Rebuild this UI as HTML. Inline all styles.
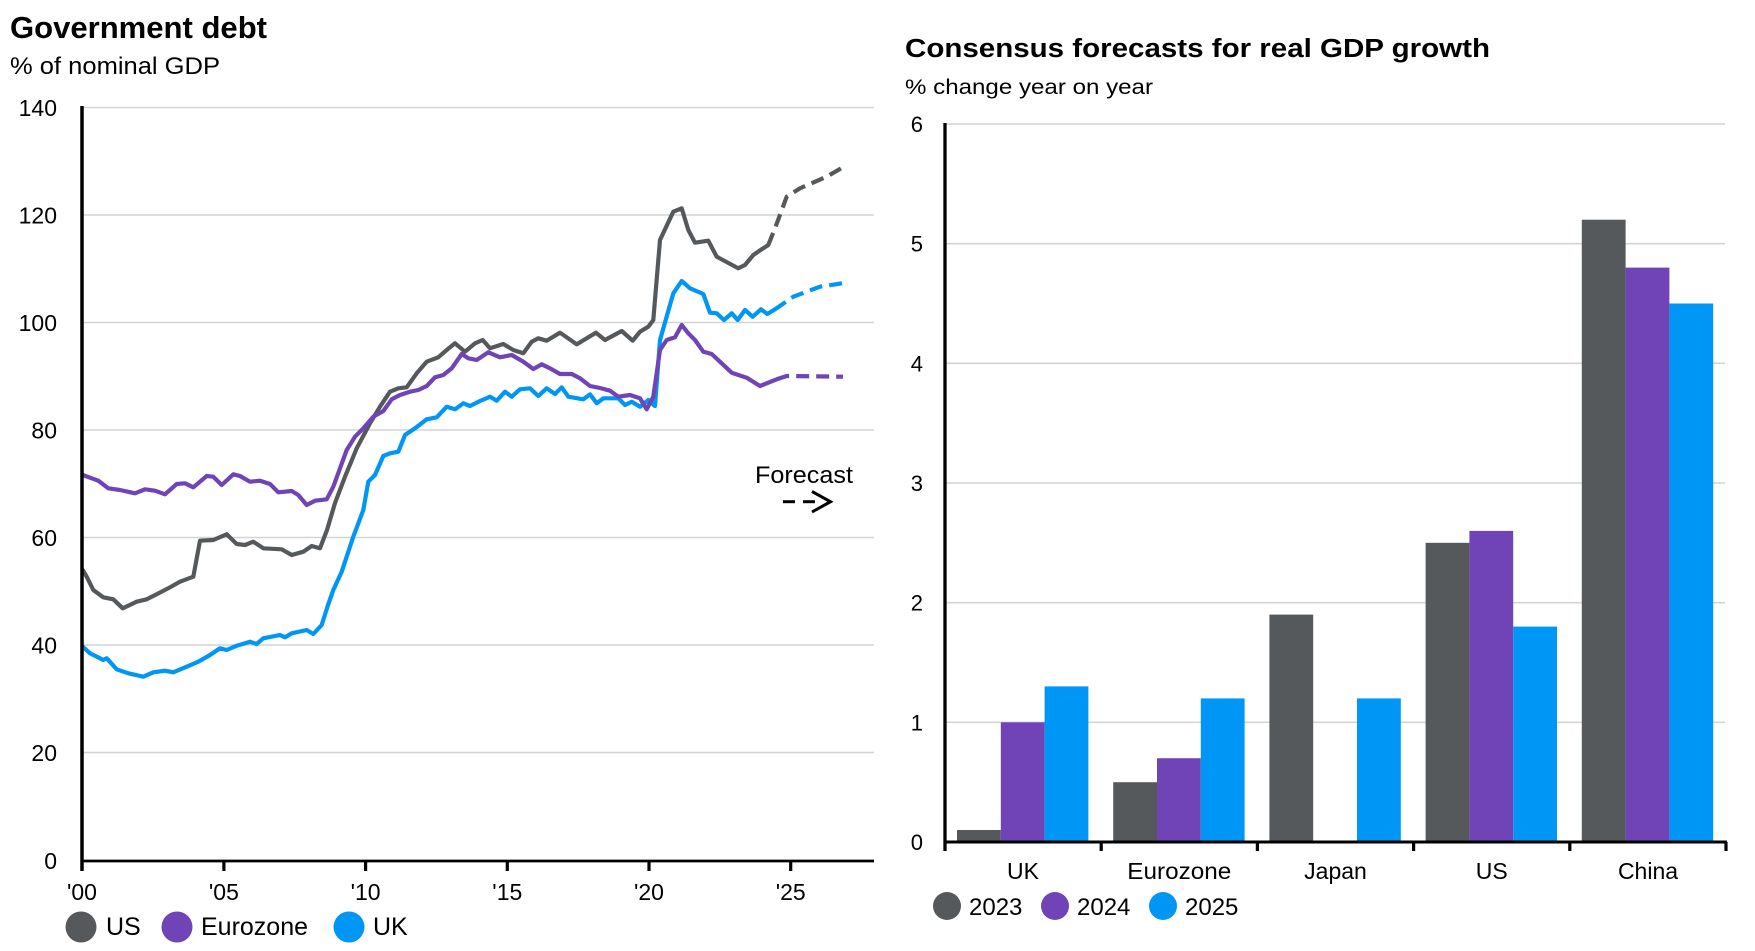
<!DOCTYPE html>
<html><head><meta charset="utf-8"><style>
html,body{margin:0;padding:0;background:#fff;}
svg{display:block;}
text{font-family:"Liberation Sans",Arial,sans-serif;fill:#000;}
</style></head><body>
<svg width="1755" height="951" viewBox="0 0 1755 951" xmlns="http://www.w3.org/2000/svg">
<rect width="1755" height="951" fill="#fff"/>

<!-- LEFT CHART -->
<text x="10" y="38" font-size="31" font-weight="bold" textLength="257" lengthAdjust="spacingAndGlyphs">Government debt</text>
<text x="10" y="74" font-size="24" textLength="210" lengthAdjust="spacingAndGlyphs">% of nominal GDP</text>

<g stroke="#d4d4d4" stroke-width="1.6">
<line x1="82" y1="752.5" x2="874" y2="752.5"/>
<line x1="82" y1="645" x2="874" y2="645"/>
<line x1="82" y1="537.5" x2="874" y2="537.5"/>
<line x1="82" y1="430" x2="874" y2="430"/>
<line x1="82" y1="322.5" x2="874" y2="322.5"/>
<line x1="82" y1="215" x2="874" y2="215"/>
<line x1="82" y1="107.5" x2="874" y2="107.5"/>
</g>
<g font-size="23" text-anchor="end">
<text x="57" y="869">0</text>
<text x="57" y="761">20</text>
<text x="57" y="653.5">40</text>
<text x="57" y="546">60</text>
<text x="57" y="438.5">80</text>
<text x="57" y="331">100</text>
<text x="57" y="223.5">120</text>
<text x="57" y="116">140</text>
</g>

<g fill="none" stroke-width="4.2" stroke-linejoin="round" stroke-linecap="round">
<polyline stroke="#55595c" points="82.7,570 86.7,576.7 93.3,590 103.3,597.3 113.3,599.3 122.7,608.3 136.7,601.7 146.7,599.3 156.7,594.3 170,587.3 180,581.7 193.3,576.7 200,540.7 213.3,540 226.7,534.3 236.7,544 245,545 253.3,541.7 263.3,548.3 281.7,549.3 291.7,555 303.3,551.7 311.7,546 320,548.3 327,530 335,503 345,476.7 356.7,448.3 370,423.3 380,406.7 390,391.7 398.3,388.3 406.7,387.3 416.7,373.3 426.7,361.7 438.3,357.3 446.7,350 455,343.3 465,351.7 475,343.3 482.7,340 490,348.3 503.3,344 513.3,350 523.3,353.3 531.7,341.7 538.3,338.3 546.7,340.7 560,332.7 566.7,337.3 576.7,344.3 596,332.7 605,340 621.7,331 632.7,340.7 640,331.7 648.3,326.7 653.3,320 660,240 673.3,211.7 681.7,208.3 688.3,230 695,242.7 708.3,240.7 716.7,256.7 738.3,268.3 745,265 753.3,255 761.7,249.3 768.3,245"/>
<polyline stroke="#55595c" stroke-dasharray="13 7" stroke-linecap="butt" points="768.3,245 775,228.3 786.7,196.7 800,188.3 826.7,176.7 845,166"/>

<polyline stroke="#0096f5" points="82.7,646.7 90,653.3 103.3,660 106.7,658.3 116.7,669.3 128.3,673.3 143.3,676.7 153.3,672.3 165,670.7 173.3,672.3 186.7,666.7 198.3,661.7 210,655 220,648.3 226.7,650 236.7,645.7 250,641.7 256.7,644 263.3,638.3 280,635 285,637.3 291.7,633.3 306.7,630 313.3,634 321.7,625 328,605 333.3,590 341.7,571.7 353.3,536.7 363.3,510 368.3,481.7 375,475 383.3,456 390,453.3 398.3,451.7 405,435 415,428.3 426.7,419.3 436.7,417.3 446.7,406.7 455,409.3 463.3,403.3 470,406 480,401 490,396.7 496.7,400.7 505,391.7 511.7,396.7 520,389.3 530,388.3 538.3,396 546.7,388.3 555,394 561.7,387.3 568.3,396.7 583.3,399.3 590,394.3 596.7,403.3 603.3,398.3 618.3,398.3 625,405 631.7,401.7 640,406.7 648.3,400 655,406 660,340 673.3,293.3 681.7,281 690,288.3 703.3,294 710,312.7 716.7,313.3 724,320 731.7,313.3 737.7,320 745,310 752.7,316.7 761,309.3 767.3,314 775,309.3"/>
<polyline stroke="#0096f5" stroke-dasharray="13 7" stroke-linecap="butt" points="775,309.3 793.3,296.7 820,286.7 847,282.5"/>

<polyline stroke="#7044b6" points="82.7,475 98.3,480.7 108.3,488.3 120,490 135,493.3 145,489.3 155,490.7 165,494.3 176.7,484 185,483.3 193.3,487.3 206.7,476 213.3,476.7 221.7,485 233.3,474.3 240,476 250,481.7 260,480.7 270,484 278.3,492.3 291.7,491 298.3,495 306.7,505 315,500.7 326.7,499.3 333.3,486.7 346.7,450 355,436.7 363.3,428.3 373.3,416.7 383.3,411 391.7,399.3 400,395 410,391.7 418.3,390 426.7,386 435,377.3 443.3,375 451.7,368.3 461.7,354 468.3,358.3 476.7,360 488.3,352.3 500,357.3 511.7,355 523.3,361.7 533.3,369 541.7,364.3 550,368.3 560,374 571.7,374 580,378.3 590,386 600,388 610,390.7 618.3,396.7 630,395 640,398.3 646.7,409.3 653.3,396.7 660,350 666.7,340 675,337.3 681.7,325 688.3,333.3 695,340 703.3,351.7 711.7,354 731.7,372.7 746.7,377.7 760,386 776.7,379.3"/>
<polyline stroke="#7044b6" stroke-dasharray="13 7" stroke-linecap="butt" points="776.7,379.3 786.7,376 843,376.7"/>
</g>

<!-- left axes -->
<line x1="82" y1="106" x2="82" y2="871" stroke="#000" stroke-width="3.5"/>
<line x1="80.5" y1="861" x2="874" y2="861" stroke="#000" stroke-width="2.8"/>
<g stroke="#000" stroke-width="3.2">
<line x1="223.9" y1="861" x2="223.9" y2="871"/>
<line x1="365.6" y1="861" x2="365.6" y2="871"/>
<line x1="507.3" y1="861" x2="507.3" y2="871"/>
<line x1="649" y1="861" x2="649" y2="871"/>
<line x1="790.7" y1="861" x2="790.7" y2="871"/>
</g>
<g font-size="23" text-anchor="middle">
<text x="82" y="900">'00</text>
<text x="223.9" y="900">'05</text>
<text x="365.6" y="900">'10</text>
<text x="507.3" y="900">'15</text>
<text x="649" y="900">'20</text>
<text x="790.7" y="900">'25</text>
</g>

<!-- forecast annotation -->
<text x="755" y="483" font-size="24.5" textLength="98" lengthAdjust="spacingAndGlyphs">Forecast</text>
<g stroke="#000" stroke-width="3" fill="none">
<line x1="783" y1="501.7" x2="795" y2="501.7"/>
<line x1="803" y1="501.7" x2="815" y2="501.7"/>
<polyline points="812,491.5 830.5,501.7 812,512"/>
</g>

<!-- left legend -->
<circle cx="81" cy="927" r="15.5" fill="#55595c"/>
<text x="106" y="935" font-size="25">US</text>
<circle cx="177" cy="927" r="15.5" fill="#7044b6"/>
<text x="201" y="935" font-size="25" textLength="107" lengthAdjust="spacingAndGlyphs">Eurozone</text>
<circle cx="349" cy="927" r="15.5" fill="#0096f5"/>
<text x="373" y="935" font-size="25">UK</text>

<!-- RIGHT CHART -->
<text x="905" y="57" font-size="25.5" font-weight="bold" textLength="585" lengthAdjust="spacingAndGlyphs">Consensus forecasts for real GDP growth</text>
<text x="905" y="94" font-size="21" textLength="248" lengthAdjust="spacingAndGlyphs">% change year on year</text>

<g stroke="#d4d4d4" stroke-width="1.6">
<line x1="945" y1="722.3" x2="1725" y2="722.3"/>
<line x1="945" y1="602.7" x2="1725" y2="602.7"/>
<line x1="945" y1="483" x2="1725" y2="483"/>
<line x1="945" y1="363.3" x2="1725" y2="363.3"/>
<line x1="945" y1="243.7" x2="1725" y2="243.7"/>
<line x1="945" y1="124" x2="1725" y2="124"/>
</g>
<g font-size="22" text-anchor="end">
<text x="923" y="850">0</text>
<text x="923" y="730.3">1</text>
<text x="923" y="610.7">2</text>
<text x="923" y="491">3</text>
<text x="923" y="371.3">4</text>
<text x="923" y="251.7">5</text>
<text x="923" y="132">6</text>
</g>

<!-- bars -->
<g fill="#55595c">
<rect x="957" y="830" width="43.8" height="12"/>
<rect x="1113.2" y="782.2" width="43.8" height="59.8"/>
<rect x="1269.4" y="614.6" width="43.8" height="227.4"/>
<rect x="1425.6" y="542.8" width="43.8" height="299.2"/>
<rect x="1581.8" y="219.7" width="43.8" height="622.3"/>
</g>
<g fill="#7044b6">
<rect x="1000.8" y="722.3" width="43.8" height="119.7"/>
<rect x="1157" y="758.2" width="43.8" height="83.8"/>
<rect x="1469.4" y="530.9" width="43.8" height="311.1"/>
<rect x="1625.6" y="267.6" width="43.8" height="574.4"/>
</g>
<g fill="#0096f5">
<rect x="1044.6" y="686.4" width="43.8" height="155.6"/>
<rect x="1200.8" y="698.4" width="43.8" height="143.6"/>
<rect x="1357" y="698.4" width="43.8" height="143.6"/>
<rect x="1513.2" y="626.6" width="43.8" height="215.4"/>
<rect x="1669.4" y="303.5" width="43.8" height="538.5"/>
</g>

<!-- right axes -->
<line x1="945" y1="123" x2="945" y2="851" stroke="#000" stroke-width="3.3"/>
<line x1="943.5" y1="842" x2="1727" y2="842" stroke="#000" stroke-width="3"/>
<g stroke="#000" stroke-width="3.2">
<line x1="1101.2" y1="842" x2="1101.2" y2="851"/>
<line x1="1257.4" y1="842" x2="1257.4" y2="851"/>
<line x1="1413.6" y1="842" x2="1413.6" y2="851"/>
<line x1="1569.8" y1="842" x2="1569.8" y2="851"/>
<line x1="1726" y1="842" x2="1726" y2="851"/>
</g>
<g font-size="23" text-anchor="middle">
<text x="1023" y="879">UK</text>
<text x="1179.3" y="879" textLength="104" lengthAdjust="spacingAndGlyphs">Eurozone</text>
<text x="1335.5" y="879">Japan</text>
<text x="1491.7" y="879">US</text>
<text x="1648" y="879">China</text>
</g>

<!-- right legend -->
<circle cx="947" cy="906" r="14" fill="#55595c"/>
<text x="969" y="915" font-size="24">2023</text>
<circle cx="1055" cy="906" r="14" fill="#7044b6"/>
<text x="1077" y="915" font-size="24">2024</text>
<circle cx="1163" cy="906" r="14" fill="#0096f5"/>
<text x="1185" y="915" font-size="24">2025</text>
</svg>
</body></html>
